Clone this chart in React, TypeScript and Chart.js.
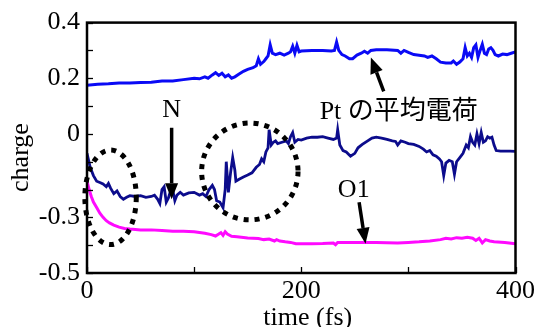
import React, { useEffect, useRef } from "react";
import { Chart, registerables } from "chart.js";

Chart.register(...registerables);

// ---- data ----
const ptTime = [0, 10, 20, 30, 40, 50, 60, 70, 80, 90, 100, 105, 110, 113, 117, 120, 123, 126, 129, 132, 135, 138, 142, 146, 150, 155, 158, 160, 162, 165, 167, 169, 171, 173, 176, 180, 184, 188, 190, 192, 194, 196, 198, 200, 210, 220, 228, 231, 233, 235, 238, 241, 245, 248, 252, 256, 259, 262, 265, 270, 280, 290, 293, 296, 300, 305, 310, 315, 318, 322, 326, 330, 335, 340, 342, 345, 348, 351, 353, 355, 357, 359, 361, 363, 365, 367, 369, 371, 373, 375, 377, 379, 381, 384, 388, 392, 396, 400];
const ptCharge = [0.175, 0.178, 0.18, 0.183, 0.183, 0.185, 0.186, 0.19, 0.19, 0.195, 0.2, 0.198, 0.205, 0.2, 0.212, 0.22, 0.21, 0.218, 0.205, 0.212, 0.2, 0.205, 0.215, 0.225, 0.232, 0.238, 0.245, 0.27, 0.25, 0.26, 0.27, 0.28, 0.32, 0.29, 0.285, 0.29, 0.283, 0.29, 0.295, 0.315, 0.29, 0.318, 0.295, 0.298, 0.3, 0.3, 0.298, 0.3, 0.33, 0.3, 0.285, 0.28, 0.27, 0.27, 0.283, 0.29, 0.297, 0.29, 0.3, 0.302, 0.302, 0.3, 0.29, 0.3, 0.293, 0.285, 0.283, 0.28, 0.275, 0.28, 0.27, 0.258, 0.255, 0.255, 0.262, 0.25, 0.258, 0.27, 0.31, 0.28, 0.29, 0.275, 0.31, 0.32, 0.275, 0.3, 0.322, 0.29, 0.285, 0.305, 0.31, 0.3, 0.285, 0.28, 0.287, 0.285, 0.29, 0.295];

const nTime = [0, 3, 6, 9, 12, 15, 18, 20, 22, 25, 28, 31, 34, 37, 40, 45, 50, 55, 60, 63, 66, 68, 70, 72, 74, 76, 78, 80, 82, 84, 87, 90, 95, 100, 105, 108, 111, 114, 117, 119, 121, 124, 127, 129, 130, 132, 134, 136, 138, 139, 142, 146, 150, 154, 158, 161, 163, 165, 167, 169, 170, 172, 174, 176, 178, 182, 186, 188, 190, 192, 194, 197, 200, 205, 210, 215, 220, 225, 230, 233, 234, 236, 239, 242, 246, 250, 253, 257, 262, 266, 270, 275, 280, 285, 288, 290, 293, 297, 300, 305, 310, 314, 317, 320, 323, 326, 329, 331, 333, 335, 338, 341, 343, 345, 348, 351, 354, 356, 358, 360, 362, 364, 366, 368, 370, 372, 374, 376, 378, 380, 382, 386, 390, 395, 400];
const nCharge = [-0.07, -0.12, -0.15, -0.17, -0.175, -0.18, -0.19, -0.178, -0.195, -0.215, -0.205, -0.225, -0.235, -0.228, -0.222, -0.225, -0.222, -0.228, -0.225, -0.22, -0.235, -0.25, -0.2, -0.19, -0.245, -0.23, -0.205, -0.2, -0.24, -0.22, -0.21, -0.22, -0.212, -0.21, -0.22, -0.215, -0.225, -0.2, -0.185, -0.2, -0.24, -0.245, -0.265, -0.2, -0.1, -0.21, -0.14, -0.085, -0.13, -0.17, -0.163, -0.155, -0.148, -0.14, -0.12, -0.11, -0.09, -0.1, -0.065, -0.05, 0.015, -0.04, -0.03, -0.025, -0.035, -0.03, -0.025, -0.035, -0.01, 0.005, -0.03, -0.02, -0.022, -0.015, -0.012, -0.012, -0.01, -0.015, -0.02, -0.015, 0.015, -0.04, -0.06, -0.065, -0.08, -0.07, -0.05, -0.038, -0.025, -0.015, -0.012, -0.015, -0.02, -0.025, -0.027, -0.04, -0.025, -0.03, -0.035, -0.038, -0.045, -0.055, -0.065, -0.06, -0.075, -0.08, -0.09, -0.1, -0.15, -0.105, -0.095, -0.1, -0.145, -0.1, -0.085, -0.07, -0.04, -0.05, -0.01, -0.03, -0.04, 0.0, -0.035, 0.005, -0.03, -0.025, -0.01, -0.015, -0.012, -0.04, -0.06, -0.062, -0.062, -0.062, -0.063];

const o1Time = [0, 2, 4, 6, 9, 12, 15, 18, 21, 25, 30, 35, 40, 50, 60, 70, 80, 90, 100, 110, 116, 120, 123, 125, 127, 129, 131, 135, 140, 150, 160, 165, 170, 175, 177, 180, 185, 190, 195, 200, 210, 220, 230, 232, 234, 250, 270, 290, 300, 310, 320, 330, 335, 340, 345, 350, 355, 360, 363, 366, 369, 372, 376, 380, 390, 400];
const o1Charge = [-0.17, -0.2, -0.225, -0.245, -0.265, -0.285, -0.3, -0.312, -0.32, -0.328, -0.335, -0.34, -0.342, -0.345, -0.345, -0.347, -0.35, -0.35, -0.352, -0.357, -0.362, -0.367, -0.36, -0.355, -0.365, -0.352, -0.36, -0.368, -0.37, -0.374, -0.376, -0.38, -0.378, -0.385, -0.38, -0.385, -0.388, -0.39, -0.395, -0.395, -0.395, -0.394, -0.392, -0.398, -0.39, -0.39, -0.39, -0.392, -0.39, -0.388, -0.385, -0.38, -0.375, -0.378, -0.373, -0.375, -0.372, -0.375, -0.383, -0.375, -0.392, -0.38, -0.385, -0.388, -0.39, -0.395];

const xTickLabels = [0, 200, 400];
const yTickLabels = [0.4, 0.2, 0, -0.3, -0.5];

// ---- annotations (data units) ----
const textNotes = [
  { text: "Pt の平均電荷", t: 291, v: 0.077 },
  { text: "N", t: 79, v: 0.084 },
  { text: "O1", t: 249, v: -0.204 },
];
const arrowNotes = [
  { t0: 277, v0: 0.153, t1: 265, v1: 0.275 },
  { t0: 79, v0: 0.022, t1: 79, v1: -0.235 },
  { t0: 254, v0: -0.246, t1: 260, v1: -0.395 },
];
const ellipseNotes = [
  { t: 22, v: -0.228, dt: 24, dv: 0.17 },
  { t: 152, v: -0.135, dt: 45, dv: 0.174 },
];

const FONT = "'Liberation Serif', 'Times New Roman', 'Noto Sans CJK JP', serif";
const FS = 26;

const toXY = (ts: number[], vs: number[]) => ts.map((t, i) => ({ x: t, y: vs[i] }));

const decorPlugin = {
  id: "decor",
  afterDatasetsDraw(chart: any) {
    const { ctx, chartArea: a, scales } = chart;
    const xs = scales.x;
    const ys = scales.y;
    ctx.save();
    ctx.strokeStyle = "#000";
    ctx.fillStyle = "#000";
    // ticks (inward)
    ctx.lineWidth = 1.3;
    ys.ticks.forEach((tk: any) => {
      const py = Math.round(ys.getPixelForValue(tk.value)) + 0.5;
      ctx.beginPath();
      ctx.moveTo(a.left, py);
      ctx.lineTo(a.left + 6, py);
      ctx.stroke();
    });
    xs.ticks.forEach((tk: any) => {
      const px = Math.round(xs.getPixelForValue(tk.value)) + 0.5;
      ctx.beginPath();
      ctx.moveTo(px, a.bottom);
      ctx.lineTo(px, a.bottom - 6);
      ctx.stroke();
    });
    // frame
    ctx.lineWidth = 2.5;
    ctx.strokeRect(a.left, a.top, a.right - a.left, a.bottom - a.top);

    // dotted ellipses
    ctx.lineWidth = 5;
    ctx.setLineDash([5, 6]);
    ellipseNotes.forEach((e) => {
      const cx = xs.getPixelForValue(e.t);
      const cy = ys.getPixelForValue(e.v);
      const rx = xs.getPixelForValue(e.t + e.dt) - cx;
      const ry = cy - ys.getPixelForValue(e.v + e.dv);
      ctx.beginPath();
      ctx.ellipse(cx, cy, rx, ry, 0, 0, Math.PI * 2);
      ctx.stroke();
    });
    ctx.setLineDash([]);

    // arrows
    arrowNotes.forEach((ar) => {
      const x0 = xs.getPixelForValue(ar.t0);
      const y0 = ys.getPixelForValue(ar.v0);
      const x1 = xs.getPixelForValue(ar.t1);
      const y1 = ys.getPixelForValue(ar.v1);
      const ang = Math.atan2(y1 - y0, x1 - x0);
      const hl = 16;
      const hw = 6.5;
      const bx = x1 - hl * Math.cos(ang);
      const by = y1 - hl * Math.sin(ang);
      ctx.lineWidth = 3.5;
      ctx.beginPath();
      ctx.moveTo(x0, y0);
      ctx.lineTo(bx, by);
      ctx.stroke();
      ctx.beginPath();
      ctx.moveTo(x1, y1);
      ctx.lineTo(bx + hw * Math.sin(ang), by - hw * Math.cos(ang));
      ctx.lineTo(bx - hw * Math.sin(ang), by + hw * Math.cos(ang));
      ctx.closePath();
      ctx.fill();
    });

    // texts
    ctx.font = `${FS}px ${FONT}`;
    ctx.textAlign = "center";
    ctx.textBaseline = "middle";
    textNotes.forEach((n) => {
      ctx.fillText(n.text, xs.getPixelForValue(n.t), ys.getPixelForValue(n.v));
    });
    ctx.restore();
  },
};

export default function App() {
  const ref = useRef<HTMLCanvasElement | null>(null);
  useEffect(() => {
    document.body.style.margin = "0";
    const canvas = ref.current;
    if (!canvas) return;
    const chart = new Chart(canvas, {
      type: "line",
      data: {
        datasets: [
          {
            label: "Pt",
            data: toXY(ptTime, ptCharge),
            borderColor: "#0a0af5",
            borderWidth: 3,
            pointRadius: 0,
            tension: 0,
          },
          {
            label: "N",
            data: toXY(nTime, nCharge),
            borderColor: "#0c0c8c",
            borderWidth: 2.8,
            pointRadius: 0,
            tension: 0,
          },
          {
            label: "O1",
            data: toXY(o1Time, o1Charge),
            borderColor: "#ff0aff",
            borderWidth: 3,
            pointRadius: 0,
            tension: 0,
          },
        ],
      },
      options: {
        animation: false,
        responsive: false,
        devicePixelRatio: 1,
        layout: { padding: { left: 0, top: 14, right: 21, bottom: 0 } },
        plugins: { legend: { display: false }, tooltip: { enabled: false } },
        scales: {
          x: {
            type: "linear",
            min: 0,
            max: 400,
            afterFit: (s: any) => {
              s.height = 54;
            },
            grid: { display: false, drawTicks: false },
            border: { display: false },
            ticks: {
              stepSize: 100,
              autoSkip: false,
              maxRotation: 0,
              padding: 3,
              color: "#000",
              font: { family: FONT, size: FS },
              callback: (v: any) => (xTickLabels.includes(Number(v)) ? String(v) : ""),
            },
            title: {
              display: true,
              text: "\u00a0\u00a0time (fs)",
              color: "#000",
              font: { family: FONT, size: FS },
              padding: { top: 0, bottom: -7 },
            },
          },
          y: {
            type: "linear",
            min: -0.5,
            max: 0.4,
            afterFit: (s: any) => {
              s.width = 87;
            },
            grid: { display: false, drawTicks: false },
            border: { display: false },
            ticks: {
              stepSize: 0.1,
              autoSkip: false,
              padding: 7,
              color: "#000",
              font: { family: FONT, size: FS },
              callback: (v: any) => {
                const r = Math.round(Number(v) * 10) / 10;
                return yTickLabels.includes(r) ? String(r) : "";
              },
            },
            title: {
              display: true,
              text: "charge\u00a0\u00a0\u00a0",
              color: "#000",
              font: { family: FONT, size: FS },
              padding: { top: 6, bottom: 0 },
            },
          },
        },
      },
      plugins: [decorPlugin],
    });
    return () => chart.destroy();
  }, []);
  return (
    <div style={{ width: 538, height: 327, background: "#fff" }}>
      <canvas ref={ref} width={538} height={327} style={{ display: "block" }} />
    </div>
  );
}
